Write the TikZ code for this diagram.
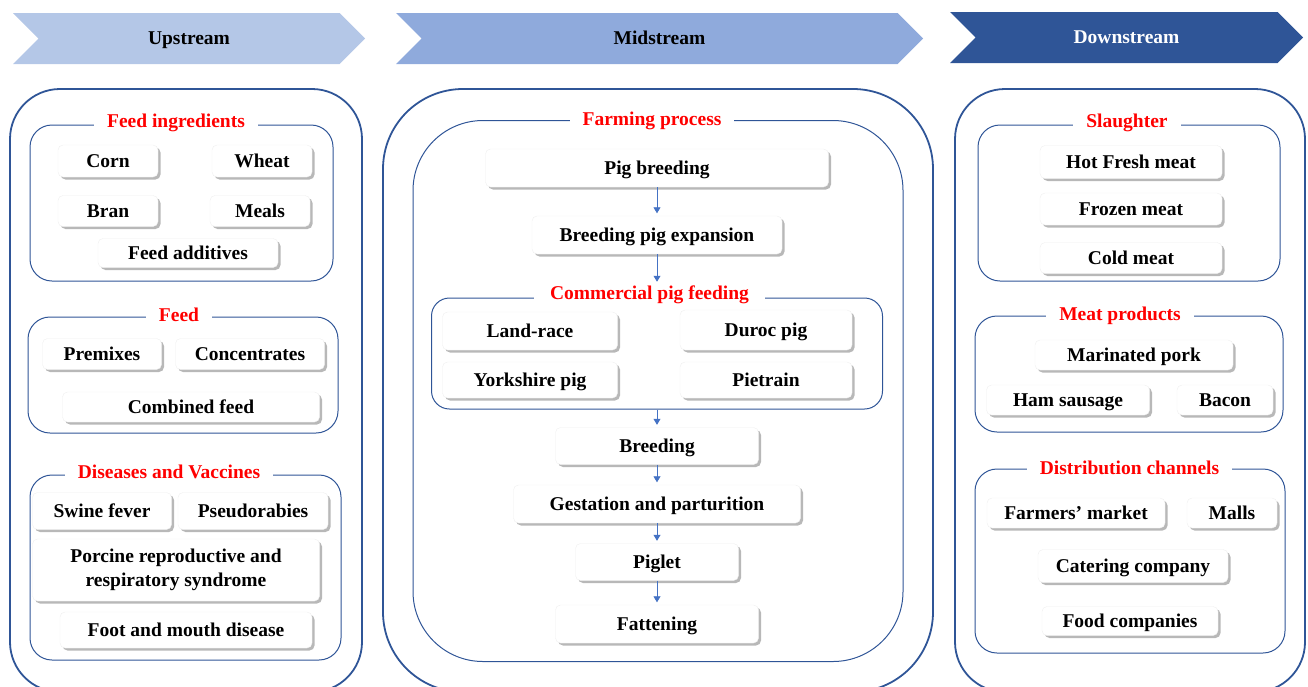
\documentclass[tikz,border=0pt]{standalone}
\usepackage{fontspec}
\setmainfont{Liberation Serif}
\usetikzlibrary{shapes.symbols,shadows,arrows.meta}

\definecolor{lineblue}{RGB}{47,85,151}
\definecolor{arrowblue}{RGB}{68,114,196}
\definecolor{upblue}{RGB}{180,199,231}
\definecolor{midblue}{RGB}{143,170,220}
\definecolor{downblue}{RGB}{47,85,151}

\tikzset{
  boldtext/.style={font=\bfseries\fontsize{19.5}{24}\selectfont},
  oneline/.style={text height=14.5pt, text depth=1.6pt},
  headarrow/.style={signal, signal from=west, signal to=east, boldtext, oneline, minimum height=51pt, inner sep=0pt},
  outerbox/.style={draw=lineblue, line width=1.8pt, rounded corners=50pt, minimum width=#1},
  groupbox/.style={draw=lineblue, line width=1pt, rounded corners=22pt},
  grouptitle/.style={boldtext, oneline, text=red, fill=white, inner xsep=13pt, inner ysep=1pt},
  cardbase/.style={rectangle, rounded corners=5pt, fill=white, draw=black!6, boldtext, align=center,
    minimum height=32pt, inner sep=2pt,
    drop shadow={shadow xshift=2.5pt, shadow yshift=-2.5pt, fill=black, opacity=0.28}},
  itembox/.style={cardbase, oneline},
  flow/.style={draw=arrowblue, line width=0.8pt, -{Triangle[width=7pt,length=6pt]}, shorten >=2.5pt}
}

\begin{document}
\begin{tikzpicture}[x=1pt,y=-1pt]
\useasboundingbox (0,0) rectangle (1308,686);
\clip (0,0) rectangle (1308,686);

% Headers
\node[headarrow, fill=upblue, minimum width=352pt] (up) at (189,38.5) {Upstream};
\node[headarrow, fill=midblue, minimum width=527pt] (mid) at (659.5,38.5) {Midstream};
\node[headarrow, fill=downblue, text=white, minimum width=353pt] (down) at (1126.5,37.5) {Downstream};

% Outer frames
\node[outerbox=352pt, minimum height=603pt] (upframe) at (186,390.5) {};
\node[outerbox=550pt, minimum height=603pt, rounded corners=80pt] (midframe) at (658,390.5) {};
\node[outerbox=350pt, minimum height=603pt] (downframe) at (1130,390.5) {};

% Upstream
\node[groupbox, minimum width=303pt, minimum height=156pt] (ingred) at (181.5,203) {};
\node[grouptitle] (ingredt) at (176,121.5) {Feed ingredients};
\node[itembox, minimum width=100pt] (corn) at (108,161) {Corn};
\node[itembox, minimum width=100pt] (wheat) at (262,161) {Wheat};
\node[itembox, minimum width=100pt, minimum height=31pt] (bran) at (108,211) {Bran};
\node[itembox, minimum width=100pt, minimum height=31pt] (meals) at (260,211) {Meals};
\node[itembox, minimum width=180pt, minimum height=29pt] (additives) at (188,253) {Feed additives};

\node[groupbox, minimum width=310pt, minimum height=116pt] (feed) at (183,375) {};
\node[grouptitle] (feedt) at (179,315.5) {Feed};
\node[itembox, minimum width=119pt, minimum height=31pt] (premix) at (102,354) {Premixes};
\node[itembox, minimum width=149pt, minimum height=31pt] (concent) at (250,354) {Concentrates};
\node[itembox, minimum width=257pt, minimum height=30pt] (combined) at (191,407) {Combined feed};

\node[groupbox, minimum width=311pt, minimum height=185pt] (disease) at (185.5,567.5) {};
\node[grouptitle] (diseaset) at (169,472.5) {Diseases and Vaccines};
\node[itembox, minimum width=139pt, minimum height=37pt] (swine) at (102,511) {Swine fever};
\node[itembox, minimum width=150pt, minimum height=37pt] (pseudo) at (253,511) {Pseudorabies};
\node[cardbase, minimum width=287pt, minimum height=62pt] (porcine) at (176,570) {Porcine reproductive and\\respiratory syndrome};
\node[itembox, minimum width=252pt, minimum height=36pt] (fmd) at (186,630) {Foot and mouth disease};

% Midstream
\node[groupbox, minimum width=490pt, minimum height=541pt, rounded corners=70pt] (farming) at (658,391) {};
\node[grouptitle] (farmingt) at (652,119) {Farming process};
\node[itembox, minimum width=343pt, minimum height=38pt] (pigbreed) at (657,168) {Pig breeding};
\node[itembox, minimum width=250pt, minimum height=38pt] (expansion) at (657,235) {Breeding pig expansion};
\node[groupbox, minimum width=451pt, minimum height=111pt, rounded corners=18pt] (commercial) at (657,353.5) {};
\node[grouptitle, inner xsep=16pt] (commercialt) at (649.5,293.5) {Commercial pig feeding};
\node[itembox, minimum width=175pt, minimum height=38pt] (landrace) at (530,331) {Land-race};
\node[itembox, minimum width=172pt, minimum height=40pt] (duroc) at (766,330) {Duroc pig};
\node[itembox, minimum width=175pt, minimum height=36pt] (yorkshire) at (530,380) {Yorkshire pig};
\node[itembox, minimum width=172pt, minimum height=36pt] (pietrain) at (766,380) {Pietrain};
\node[itembox, minimum width=203pt, minimum height=37pt] (breed) at (657,446) {Breeding};
\node[itembox, minimum width=287pt, minimum height=38pt] (gestation) at (657,504) {Gestation and parturition};
\node[itembox, minimum width=163pt, minimum height=37pt] (piglet) at (657,562) {Piglet};
\node[itembox, minimum width=203pt, minimum height=38pt] (fattening) at (657,624) {Fattening};

\draw[flow] (pigbreed) -- (expansion);
\draw[flow] (expansion) -- (expansion |- commercialt.north);
\draw[flow] (commercial) -- (breed);
\draw[flow] (breed) -- (gestation);
\draw[flow] (gestation) -- (piglet);
\draw[flow] (piglet) -- (fattening);

% Downstream
\node[groupbox, minimum width=302pt, minimum height=156pt] (slaughter) at (1129,203) {};
\node[grouptitle] (slaughtert) at (1127,121.5) {Slaughter};
\node[itembox, minimum width=182pt, minimum height=33pt] (hot) at (1131,162) {Hot Fresh meat};
\node[itembox, minimum width=182pt] (frozen) at (1131,209) {Frozen meat};
\node[itembox, minimum width=182pt, minimum height=31pt] (cold) at (1131,258) {Cold meat};

\node[groupbox, minimum width=308pt, minimum height=116pt] (meat) at (1129,374) {};
\node[grouptitle] (meatt) at (1120,314) {Meat products};
\node[itembox, minimum width=198pt, minimum height=30pt] (marinated) at (1134,355) {Marinated pork};
\node[itembox, minimum width=163pt, minimum height=30pt] (ham) at (1068,400) {Ham sausage};
\node[itembox, minimum width=96pt, minimum height=30pt] (bacon) at (1225,400) {Bacon};

\node[groupbox, minimum width=310pt, minimum height=184pt] (channels) at (1130,561) {};
\node[grouptitle] (channelst) at (1129.5,468.5) {Distribution channels};
\node[itembox, minimum width=178pt, minimum height=30pt] (farmers) at (1076,513) {Farmers’ market};
\node[itembox, minimum width=90pt, minimum height=30pt] (malls) at (1232,513) {Malls};
\node[itembox, minimum width=190pt, minimum height=33pt] (catering) at (1133,566) {Catering company};
\node[itembox, minimum width=176pt, minimum height=29pt] (foodco) at (1130,621) {Food companies};
\end{tikzpicture}
\end{document}
